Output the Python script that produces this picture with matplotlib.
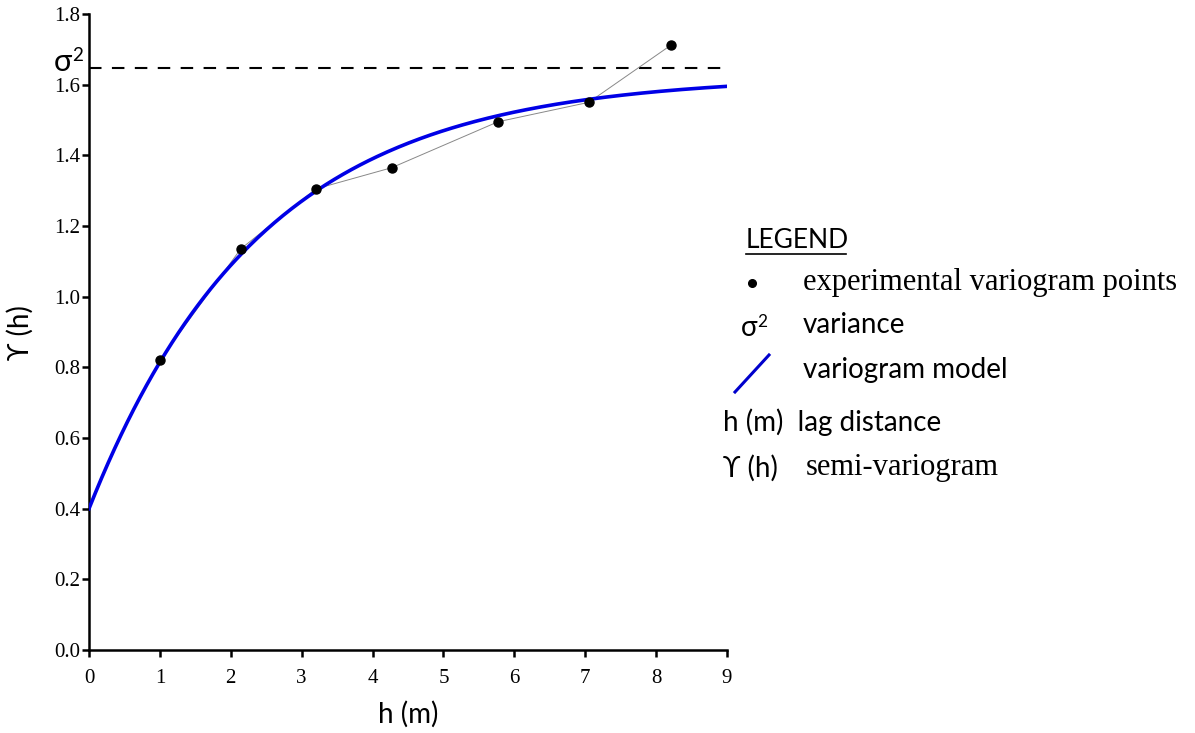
import numpy as np
import matplotlib
matplotlib.use("Agg")
import matplotlib.pyplot as plt
from matplotlib.lines import Line2D

# experimental variogram points
lag_h = [1.0, 2.14, 3.20, 4.27, 5.77, 7.05, 8.21]
gamma_exp = [0.821, 1.135, 1.305, 1.365, 1.495, 1.550, 1.712]

# exponential variogram model parameters
nugget = 0.40
partial_sill = 1.225
range_a = 2.42
variance = 1.647

x_ticks = [0, 1, 2, 3, 4, 5, 6, 7, 8, 9]
y_ticks = [0.0, 0.2, 0.4, 0.6, 0.8, 1.0, 1.2, 1.4, 1.6, 1.8]

W, H = 1195, 733
SANS = ['Lato', 'DejaVu Sans']
SERIF = ['Liberation Serif', 'DejaVu Serif']


def fx(px):
    return px / W


def fy(py):
    return 1 - py / H


def sigma2(x, y, size):
    # sigma with a roomier superscript than the font's own glyph
    fig.text(fx(x), fy(y), 'σ', family=SANS, fontsize=size,
             ha='left', va='center')
    fig.text(fx(x + size * 0.82), fy(y - size * 0.3), '2', family=SANS,
             fontsize=size * 0.62, ha='left', va='center')


fig = plt.figure(figsize=(W / 100, H / 100), dpi=100)
ax = fig.add_axes([fx(89), fy(650), fx(727) - fx(89), fy(14) - fy(650)])

# model curve
h = np.linspace(0, 9, 300)
model = nugget + partial_sill * (1 - np.exp(-h / range_a))
ax.plot(h, model, color='#0000e6', lw=2.6, zorder=3)

# experimental points joined by a thin grey line
ax.plot(lag_h, gamma_exp, color='#888888', lw=0.7, zorder=2)
ax.plot(lag_h, gamma_exp, 'o', color='black', ms=6.5, zorder=4)

# variance (sill) line
ax.axhline(variance, color='black', lw=1.5, ls=(0, (6, 5)), zorder=1)

ax.set_xlim(0, 9)
ax.set_ylim(0, 1.8)
ax.set_xticks(x_ticks)
ax.set_yticks(y_ticks)
ax.set_xticklabels([str(t) for t in x_ticks], family=SERIF, fontsize=15)
ax.set_yticklabels([f"{t:.1f}" for t in y_ticks], family=SERIF, fontsize=15)
for s in ['top', 'right']:
    ax.spines[s].set_visible(False)
for s in ['left', 'bottom']:
    ax.spines[s].set_linewidth(1.8)
ax.tick_params(width=1.8, length=5)
ax.tick_params(axis='x', pad=9)
ax.tick_params(axis='y', pad=1)

fig.text(fx(408), fy(714), 'h (m)', family=SANS, fontsize=20,
         ha='center', va='center')
fig.text(fx(20), fy(333), 'ϒ (h)', family=SANS, fontsize=20,
         ha='center', va='center', rotation=90)
sigma2(54, 62, 22)

# hand-made legend
fig.text(fx(746), fy(240), 'LEGEND', family=SANS, fontsize=19,
         ha='left', va='center')
fig.add_artist(Line2D([fx(746), fx(846)], [fy(254), fy(254)],
                      color='black', lw=1.2))
fig.add_artist(Line2D([fx(752)], [fy(283)], marker='o', color='black',
                      ms=5.5, lw=0))
fig.text(fx(803), fy(283), 'experimental variogram points', family=SERIF,
         fontsize=22, ha='left', va='center')
sigma2(741, 328, 20)
fig.text(fx(803), fy(325), 'variance', family=SANS, fontsize=20,
         ha='left', va='center')
fig.add_artist(Line2D([fx(735), fx(769)], [fy(392), fy(355)],
                      color='#0000cc', lw=2.2))
fig.text(fx(803), fy(370), 'variogram model', family=SANS, fontsize=20,
         ha='left', va='center')
fig.text(fx(723), fy(422), 'h (m)  lag distance', family=SANS, fontsize=20,
         ha='left', va='center')
fig.text(fx(723), fy(468), 'ϒ (h)', family=SANS, fontsize=20,
         ha='left', va='center')
fig.text(fx(806), fy(468), 'semi-variogram', family=SERIF, fontsize=22,
         ha='left', va='center')

fig.savefig('out.png', dpi=100)
